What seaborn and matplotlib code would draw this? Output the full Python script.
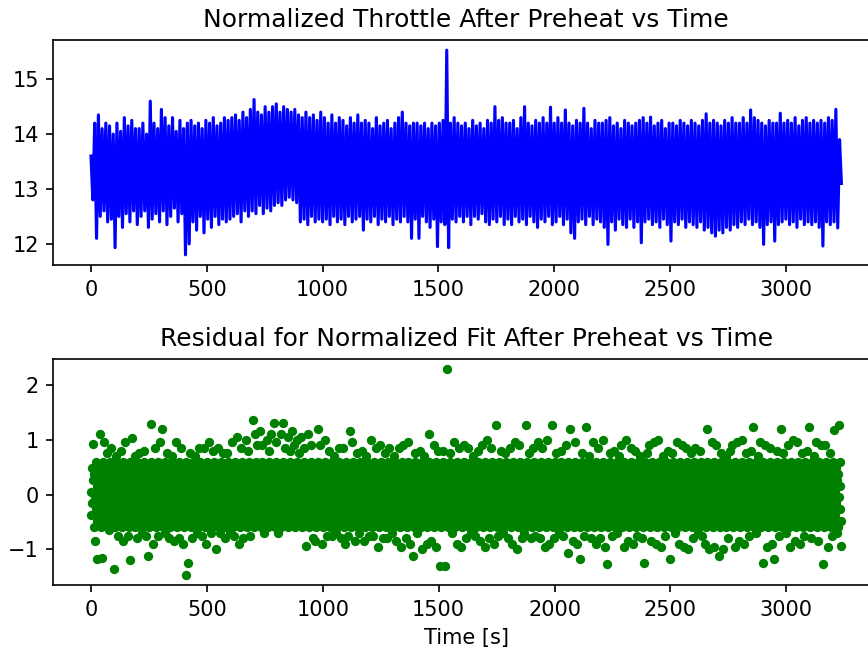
import numpy as np
import pandas as pd
import seaborn as sns
import matplotlib
matplotlib.use("Agg")
import matplotlib.pyplot as plt

# throttle after preheat, one sample every 8 s
throttle_dt = 8
throttle = [
    13.6, 12.8, 14.2, 12.1, 14.35, 12.5, 14.1, 12.6, 14.2, 12.4, 14.15, 12.45, 14.0, 11.93, 14.2, 12.5, 14.05, 12.3, 14.3, 12.55, 14.15, 12.4, 14.25, 12.6, 14.1,
    12.35, 14.1, 12.5, 14.2, 12.6, 14.0, 12.3, 14.6, 12.45, 14.2, 12.55, 14.1, 12.4, 14.45, 12.6, 14.3, 12.35, 14.15, 12.5, 14.3, 12.65, 14.05, 12.4, 14.25, 12.55,
    14.1, 11.8, 14.2, 12.0, 14.25, 12.4, 14.15, 12.25, 14.2, 12.5, 14.1, 12.2, 14.25, 12.45, 14.2, 12.3, 14.3, 12.5, 14.15, 12.35, 14.2, 12.45, 14.3, 12.4, 14.25,
    12.45, 14.3, 12.5, 14.35, 12.55, 14.25, 12.4, 14.4, 12.6, 14.3, 12.5, 14.45, 12.6, 14.63, 12.55, 14.4, 12.7, 14.35, 12.55, 14.5, 12.65, 14.4, 12.6, 14.5, 12.7,
    14.55, 12.75, 14.4, 12.7, 14.5, 12.8, 14.45, 12.85, 14.4, 12.8, 14.45, 12.75, 14.35, 12.4, 14.3, 12.45, 14.4, 12.35, 14.3, 12.5, 14.35, 12.4, 14.25, 12.45, 14.4,
    12.4, 14.3, 12.45, 14.2, 12.35, 14.35, 12.5, 14.2, 12.4, 14.3, 12.45, 14.25, 12.35, 14.15, 12.5, 14.3, 12.4, 14.2, 12.45, 14.35, 12.5, 14.2, 12.25, 14.25, 12.45,
    14.2, 12.4, 14.1, 12.5, 14.3, 12.35, 14.15, 12.45, 14.2, 12.4, 14.25, 12.5, 14.1, 12.35, 14.2, 12.45, 14.3, 12.4, 14.4, 12.5, 14.2, 12.4, 14.15, 12.1, 14.2,
    12.45, 14.2, 12.1, 14.15, 12.5, 14.2, 12.4, 14.1, 12.3, 14.2, 12.45, 14.15, 11.95, 14.2, 12.4, 14.25, 12.35, 15.53, 11.93, 14.2, 12.45, 14.3, 12.4, 14.2, 12.5,
    14.15, 12.4, 14.2, 12.5, 14.1, 12.35, 14.25, 12.5, 14.15, 12.45, 14.2, 12.55, 14.1, 12.4, 14.25, 12.35, 14.2, 12.45, 14.5, 12.4, 14.25, 12.5, 14.3, 12.35, 14.2,
    12.45, 14.2, 12.35, 14.25, 12.5, 14.1, 12.4, 14.3, 12.45, 14.5, 12.35, 14.2, 12.5, 14.15, 12.4, 14.25, 12.3, 14.2, 12.45, 14.3, 12.4, 14.2, 12.5, 14.49, 12.35,
    14.2, 12.4, 14.3, 12.5, 14.2, 12.35, 14.44, 12.45, 14.2, 12.2, 14.15, 12.1, 14.25, 12.4, 14.2, 12.45, 14.47, 12.35, 14.2, 12.5, 14.1, 12.35, 14.25, 12.45, 14.2,
    12.4, 14.2, 12.3, 14.25, 11.99, 14.3, 12.4, 14.15, 12.25, 14.2, 12.45, 14.1, 12.35, 14.25, 12.3, 14.2, 12.45, 14.15, 12.3, 14.2, 12.4, 14.25, 12.02, 14.3, 12.4,
    14.2, 12.45, 14.31, 12.35, 14.15, 12.4, 14.2, 12.3, 14.25, 12.45, 14.1, 12.35, 14.2, 12.05, 14.2, 12.4, 14.15, 12.35, 14.25, 12.45, 14.2, 12.3, 14.15, 12.4, 14.25,
    12.35, 14.2, 12.3, 14.15, 12.4, 14.25, 12.25, 14.37, 12.3, 14.2, 12.2, 14.25, 12.14, 14.2, 12.25, 14.15, 12.2, 14.25, 12.3, 14.2, 12.25, 14.3, 12.35, 14.2, 12.3,
    14.2, 12.4, 14.3, 12.35, 14.2, 12.45, 14.44, 12.35, 14.3, 12.4, 14.25, 12.3, 14.2, 11.99, 14.15, 12.35, 14.25, 12.4, 14.2, 12.05, 14.2, 12.35, 14.38, 12.4, 14.2,
    12.45, 14.25, 12.35, 14.2, 12.4, 14.3, 12.3, 14.15, 12.45, 14.25, 12.35, 14.3, 12.4, 14.2, 12.35, 14.25, 12.4, 14.2, 12.3, 14.25, 11.96, 14.2, 12.4, 14.3, 12.35,
    14.25, 12.4, 14.45, 12.29, 13.9, 13.1,
]

# residual of the normalized fit, one sample every 2 s, 30 samples per row = 60 s
residual_dt = 2
residual = [
    0.05, -0.38, 0.49, -0.16, 0.92, 0.27, -0.6, 0.38, -0.05, -0.85, 0.6, -0.27, 0.16, -0.49, -1.18, 0.05, -0.38, 0.49, -0.16, 1.1, 0.27, -0.6, 0.38, -0.05, -1.15, 0.6, -0.27, 0.16, -0.49, 0.95,
    0.05, -0.38, 0.49, -0.16, 0.75, 0.27, -0.6, 0.38, -0.05, -0.65, 0.6, -0.27, 0.16, -0.49, 0.85, 0.05, -0.38, 0.49, -0.16, -1.36, 0.27, -0.6, 0.38, -0.05, 0.7, 0.6, -0.27, 0.16, -0.49, -0.75,
    0.05, -0.38, 0.49, -0.16, 0.8, 0.27, -0.6, 0.38, -0.05, -0.85, 0.6, -0.27, 0.16, -0.49, 0.95, 0.05, -0.38, 0.49, -0.16, -0.75, 0.27, -0.6, 0.38, -0.05, -1.2, 0.6, -0.27, 0.16, -0.49, 1.03,
    0.05, -0.38, 0.49, -0.16, 0.7, 0.27, -0.6, 0.38, -0.05, -0.8, 0.6, -0.27, 0.16, -0.49, 0.75, 0.05, -0.38, 0.49, -0.16, -0.7, 0.27, -0.6, 0.38, -0.05, 0.8, 0.6, -0.27, 0.16, -0.49, -0.75,
    0.05, -0.38, 0.49, -0.16, -1.12, 0.27, -0.6, 0.38, -0.05, 1.29, 0.6, -0.27, 0.16, -0.49, -0.9, 0.05, -0.38, 0.49, -0.16, 0.85, 0.27, -0.6, 0.38, -0.05, -0.75, 0.6, -0.27, 0.16, -0.49, 0.95,
    0.05, -0.38, 0.49, -0.16, 1.19, 0.27, -0.6, 0.38, -0.05, -0.7, 0.6, -0.27, 0.16, -0.49, 0.75, 0.05, -0.38, 0.49, -0.16, -0.8, 0.27, -0.6, 0.38, -0.05, 0.7, 0.6, -0.27, 0.16, -0.49, -0.85,
    0.05, -0.38, 0.49, -0.16, 0.95, 0.27, -0.6, 0.38, -0.05, -0.8, 0.6, -0.27, 0.16, -0.49, 0.85, 0.05, -0.38, 0.49, -0.16, -0.9, 0.27, -0.6, 0.38, -0.05, -1.46, 0.6, -0.27, 0.16, -0.49, -1.25,
    0.05, -0.38, 0.49, -0.16, 0.75, 0.27, -0.6, 0.38, -0.05, -0.8, 0.6, -0.27, 0.16, -0.49, 0.7, 0.05, -0.38, 0.49, -0.16, -0.7, 0.27, -0.6, 0.38, -0.05, 0.85, 0.6, -0.27, 0.16, -0.49, -0.75,
    0.05, -0.38, 0.49, -0.16, 0.85, 0.27, -0.6, 0.38, -0.05, -0.9, 0.6, -0.27, 0.16, -0.49, 0.95, 0.05, -0.38, 0.49, -0.16, -0.7, 0.27, -0.6, 0.38, -0.05, 0.8, 0.6, -0.27, 0.16, -0.49, -1.0,
    0.05, -0.38, 0.49, -0.16, 0.85, 0.27, -0.6, 0.38, -0.05, -0.7, 0.6, -0.27, 0.16, -0.49, 0.75, 0.05, -0.38, 0.49, -0.16, -0.8, 0.27, -0.6, 0.38, -0.05, 0.75, 0.6, -0.27, 0.16, -0.49, -0.7,
    0.05, -0.38, 0.49, -0.16, 0.95, 0.27, -0.6, 0.38, -0.05, -0.75, 0.6, -0.27, 0.16, -0.49, 1.05, 0.05, -0.38, 0.49, -0.16, -0.9, 0.27, -0.6, 0.38, -0.05, 0.85, 0.6, -0.27, 0.16, -0.49, -0.8,
    0.05, -0.38, 0.49, -0.16, 1.0, 0.27, -0.6, 0.38, -0.05, 0.8, 0.6, -0.27, 0.16, -0.49, -0.75, 0.05, -0.38, 0.49, -0.16, 1.36, 0.27, -0.6, 0.38, -0.05, 1.1, 0.6, -0.27, 0.16, -0.49, 0.9,
    0.05, -0.38, 0.49, -0.16, 1.15, 0.27, -0.6, 0.38, -0.05, 0.9, 0.6, -0.27, 0.16, -0.49, -0.7, 0.05, -0.38, 0.49, -0.16, 1.0, 0.27, -0.6, 0.38, -0.05, 0.8, 0.6, -0.27, 0.16, -0.49, 1.1,
    0.05, -0.38, 0.49, -0.16, 1.3, 0.27, -0.6, 0.38, -0.05, 0.95, 0.6, -0.27, 0.16, -0.49, -0.7, 0.05, -0.38, 0.49, -0.16, 1.1, 0.27, -0.6, 0.38, -0.05, 1.3, 0.6, -0.27, 0.16, -0.49, 0.85,
    0.05, -0.38, 0.49, -0.16, 1.05, 0.27, -0.6, 0.38, -0.05, 0.8, 0.6, -0.27, 0.16, -0.49, 1.15, 0.05, -0.38, 0.49, -0.16, 0.9, 0.27, -0.6, 0.38, -0.05, 1.0, 0.6, -0.27, 0.16, -0.49, 0.75,
    0.05, -0.38, 0.49, -0.16, 1.05, 0.27, -0.6, 0.38, -0.05, 0.85, 0.6, -0.27, 0.16, -0.49, -0.93, 0.05, -0.38, 0.49, -0.16, 1.1, 0.27, -0.6, 0.38, -0.05, 0.9, 0.6, -0.27, 0.16, -0.49, -0.8,
    0.05, -0.38, 0.49, -0.16, -0.85, 0.27, -0.6, 0.38, -0.05, 1.19, 0.6, -0.27, 0.16, -0.49, 0.9, 0.05, -0.38, 0.49, -0.16, -0.9, 0.27, -0.6, 0.38, -0.05, 1.0, 0.6, -0.27, 0.16, -0.49, -0.75,
    0.05, -0.38, 0.49, -0.16, 0.8, 0.27, -0.6, 0.38, -0.05, -0.75, 0.6, -0.27, 0.16, -0.49, 0.7, 0.05, -0.38, 0.49, -0.16, -0.7, 0.27, -0.6, 0.38, -0.05, 0.85, 0.6, -0.27, 0.16, -0.49, -0.8,
    0.05, -0.38, 0.49, -0.16, 0.85, 0.27, -0.6, 0.38, -0.05, -0.9, 0.6, -0.27, 0.16, -0.49, -0.75, 0.05, -0.38, 0.49, -0.16, 1.16, 0.27, -0.6, 0.38, -0.05, 0.95, 0.6, -0.27, 0.16, -0.49, -0.85,
    0.05, -0.38, 0.49, -0.16, 0.75, 0.27, -0.6, 0.38, -0.05, -0.7, 0.6, -0.27, 0.16, -0.49, 0.8, 0.05, -0.38, 0.49, -0.16, -0.85, 0.27, -0.6, 0.38, -0.05, 0.7, 0.6, -0.27, 0.16, -0.49, -0.75,
    0.05, -0.38, 0.49, -0.16, 1.0, 0.27, -0.6, 0.38, -0.05, -0.75, 0.6, -0.27, 0.16, -0.49, 0.85, 0.05, -0.38, 0.49, -0.16, -0.95, 0.27, -0.6, 0.38, -0.05, 0.9, 0.6, -0.27, 0.16, -0.49, -0.8,
    0.05, -0.38, 0.49, -0.16, 0.75, 0.27, -0.6, 0.38, -0.05, -0.8, 0.6, -0.27, 0.16, -0.49, 0.85, 0.05, -0.38, 0.49, -0.16, -0.7, 0.27, -0.6, 0.38, -0.05, 0.7, 0.6, -0.27, 0.16, -0.49, -0.85,
    0.05, -0.38, 0.49, -0.16, 0.85, 0.27, -0.6, 0.38, -0.05, -0.95, 0.6, -0.27, 0.16, -0.49, 0.9, 0.05, -0.38, 0.49, -0.16, -0.8, 0.27, -0.6, 0.38, -0.05, 0.95, 0.6, -0.27, 0.16, -0.49, -0.9,
    0.05, -0.38, 0.49, -0.16, -1.12, 0.27, -0.6, 0.38, -0.05, 0.75, 0.6, -0.27, 0.16, -0.49, -0.7, 0.05, -0.38, 0.49, -0.16, 0.8, 0.27, -0.6, 0.38, -0.05, -1.0, 0.6, -0.27, 0.16, -0.49, 0.7,
    0.05, -0.38, 0.49, -0.16, -0.9, 0.27, -0.6, 0.38, -0.05, 1.1, 0.6, -0.27, 0.16, -0.49, -0.85, 0.05, -0.38, 0.49, -0.16, 0.9, 0.27, -0.6, 0.38, -0.05, -0.95, 0.6, -0.27, 0.16, -0.49, 0.8,
    0.05, -0.38, 0.49, -0.16, -1.31, 0.27, -0.6, 0.38, -0.05, 0.8, 0.6, -0.27, 0.16, -0.49, -1.31, 0.05, -0.38, 0.49, -0.16, 2.28, 0.27, -0.6, 0.38, -0.05, 0.75, 0.6, -0.27, 0.16, -0.49, -0.7,
    0.05, -0.38, 0.49, -0.16, 0.95, 0.27, -0.6, 0.38, -0.05, -0.9, 0.6, -0.27, 0.16, -0.49, 0.85, 0.05, -0.38, 0.49, -0.16, -0.95, 0.27, -0.6, 0.38, -0.05, 0.9, 0.6, -0.27, 0.16, -0.49, -0.8,
    0.05, -0.38, 0.49, -0.16, 0.85, 0.27, -0.6, 0.38, -0.05, -0.7, 0.6, -0.27, 0.16, -0.49, 0.7, 0.05, -0.38, 0.49, -0.16, -0.75, 0.27, -0.6, 0.38, -0.05, 0.8, 0.6, -0.27, 0.16, -0.49, -0.85,
    0.05, -0.38, 0.49, -0.16, 0.9, 0.27, -0.6, 0.38, -0.05, -0.95, 0.6, -0.27, 0.16, -0.49, 1.0, 0.05, -0.38, 0.49, -0.16, -0.8, 0.27, -0.6, 0.38, -0.05, 0.85, 0.6, -0.27, 0.16, -0.49, -0.9,
    0.05, -0.38, 0.49, -0.16, 1.26, 0.27, -0.6, 0.38, -0.05, -0.75, 0.6, -0.27, 0.16, -0.49, 0.8, 0.05, -0.38, 0.49, -0.16, -0.7, 0.27, -0.6, 0.38, -0.05, 0.75, 0.6, -0.27, 0.16, -0.49, -0.8,
    0.05, -0.38, 0.49, -0.16, 0.85, 0.27, -0.6, 0.38, -0.05, -0.9, 0.6, -0.27, 0.16, -0.49, 0.95, 0.05, -0.38, 0.49, -0.16, -1.0, 0.27, -0.6, 0.38, -0.05, 0.9, 0.6, -0.27, 0.16, -0.49, -0.8,
    0.05, -0.38, 0.49, -0.16, -0.7, 0.27, -0.6, 0.38, -0.05, 1.26, 0.6, -0.27, 0.16, -0.49, 0.75, 0.05, -0.38, 0.49, -0.16, -0.8, 0.27, -0.6, 0.38, -0.05, 0.85, 0.6, -0.27, 0.16, -0.49, -0.75,
    0.05, -0.38, 0.49, -0.16, 0.95, 0.27, -0.6, 0.38, -0.05, -0.8, 0.6, -0.27, 0.16, -0.49, 0.85, 0.05, -0.38, 0.49, -0.16, -0.95, 0.27, -0.6, 0.38, -0.05, 1.0, 0.6, -0.27, 0.16, -0.49, -0.9,
    0.05, -0.38, 0.49, -0.16, 1.26, 0.27, -0.6, 0.38, -0.05, -0.8, 0.6, -0.27, 0.16, -0.49, 0.75, 0.05, -0.38, 0.49, -0.16, -0.7, 0.27, -0.6, 0.38, -0.05, 0.8, 0.6, -0.27, 0.16, -0.49, -0.75,
    0.05, -0.38, 0.49, -0.16, 0.9, 0.27, -0.6, 0.38, -0.05, -1.06, 0.6, -0.27, 0.16, -0.49, 1.2, 0.05, -0.38, 0.49, -0.16, -0.85, 0.27, -0.6, 0.38, -0.05, 0.95, 0.6, -0.27, 0.16, -0.49, -0.9,
    0.05, -0.38, 0.49, -0.16, -1.17, 0.27, -0.6, 0.38, -0.05, 0.75, 0.6, -0.27, 0.16, -0.49, -0.75, 0.05, -0.38, 0.49, -0.16, 1.23, 0.27, -0.6, 0.38, -0.05, 0.7, 0.6, -0.27, 0.16, -0.49, -0.8,
    0.05, -0.38, 0.49, -0.16, 0.95, 0.27, -0.6, 0.38, -0.05, -0.9, 0.6, -0.27, 0.16, -0.49, 0.85, 0.05, -0.38, 0.49, -0.16, -0.8, 0.27, -0.6, 0.38, -0.05, 1.0, 0.6, -0.27, 0.16, -0.49, -0.95,
    0.05, -0.38, 0.49, -0.16, -1.27, 0.27, -0.6, 0.38, -0.05, 0.75, 0.6, -0.27, 0.16, -0.49, -0.75, 0.05, -0.38, 0.49, -0.16, 0.8, 0.27, -0.6, 0.38, -0.05, -0.7, 0.6, -0.27, 0.16, -0.49, 0.7,
    0.05, -0.38, 0.49, -0.16, 0.9, 0.27, -0.6, 0.38, -0.05, -0.95, 0.6, -0.27, 0.16, -0.49, 1.0, 0.05, -0.38, 0.49, -0.16, -0.85, 0.27, -0.6, 0.38, -0.05, 0.85, 0.6, -0.27, 0.16, -0.49, -0.9,
    0.05, -0.38, 0.49, -0.16, 0.8, 0.27, -0.6, 0.38, -0.05, -0.75, 0.6, -0.27, 0.16, -0.49, 0.7, 0.05, -0.38, 0.49, -0.16, -0.8, 0.27, -0.6, 0.38, -0.05, -1.24, 0.6, -0.27, 0.16, -0.49, 0.75,
    0.05, -0.38, 0.49, -0.16, 0.9, 0.27, -0.6, 0.38, -0.05, -0.85, 0.6, -0.27, 0.16, -0.49, 0.95, 0.05, -0.38, 0.49, -0.16, -0.9, 0.27, -0.6, 0.38, -0.05, 1.0, 0.6, -0.27, 0.16, -0.49, -0.95,
    0.05, -0.38, 0.49, -0.16, 0.7, 0.27, -0.6, 0.38, -0.05, -0.75, 0.6, -0.27, 0.16, -0.49, 0.8, 0.05, -0.38, 0.49, -0.16, -1.17, 0.27, -0.6, 0.38, -0.05, 0.75, 0.6, -0.27, 0.16, -0.49, -0.7,
    0.05, -0.38, 0.49, -0.16, 0.95, 0.27, -0.6, 0.38, -0.05, -0.9, 0.6, -0.27, 0.16, -0.49, 0.9, 0.05, -0.38, 0.49, -0.16, -0.95, 0.27, -0.6, 0.38, -0.05, 0.85, 0.6, -0.27, 0.16, -0.49, -1.0,
    0.05, -0.38, 0.49, -0.16, 0.75, 0.27, -0.6, 0.38, -0.05, -0.8, 0.6, -0.27, 0.16, -0.49, 0.85, 0.05, -0.38, 0.49, -0.16, -0.7, 0.27, -0.6, 0.38, -0.05, 0.8, 0.6, -0.27, 0.16, -0.49, -0.75,
    0.05, -0.38, 0.49, -0.16, -0.9, 0.27, -0.6, 0.38, -0.05, 1.2, 0.6, -0.27, 0.16, -0.49, -1.0, 0.05, -0.38, 0.49, -0.16, 0.95, 0.27, -0.6, 0.38, -0.05, -0.95, 0.6, -0.27, 0.16, -0.49, 0.9,
    0.05, -0.38, 0.49, -0.16, -1.12, 0.27, -0.6, 0.38, -0.05, 0.75, 0.6, -0.27, 0.16, -0.49, -1.0, 0.05, -0.38, 0.49, -0.16, 0.7, 0.27, -0.6, 0.38, -0.05, -0.8, 0.6, -0.27, 0.16, -0.49, 0.8,
    0.05, -0.38, 0.49, -0.16, 0.9, 0.27, -0.6, 0.38, -0.05, -0.95, 0.6, -0.27, 0.16, -0.49, 0.95, 0.05, -0.38, 0.49, -0.16, -0.85, 0.27, -0.6, 0.38, -0.05, 1.0, 0.6, -0.27, 0.16, -0.49, -0.9,
    0.05, -0.38, 0.49, -0.16, 0.75, 0.27, -0.6, 0.38, -0.05, -0.75, 0.6, -0.27, 0.16, -0.49, 0.8, 0.05, -0.38, 0.49, -0.16, 1.23, 0.27, -0.6, 0.38, -0.05, -0.7, 0.6, -0.27, 0.16, -0.49, 0.7,
    0.05, -0.38, 0.49, -0.16, 0.95, 0.27, -0.6, 0.38, -0.05, -1.24, 0.6, -0.27, 0.16, -0.49, 0.9, 0.05, -0.38, 0.49, -0.16, -0.95, 0.27, -0.6, 0.38, -0.05, 0.85, 0.6, -0.27, 0.16, -0.49, -0.9,
    0.05, -0.38, 0.49, -0.16, -1.17, 0.27, -0.6, 0.38, -0.05, 0.8, 0.6, -0.27, 0.16, -0.49, -0.75, 0.05, -0.38, 0.49, -0.16, 1.2, 0.27, -0.6, 0.38, -0.05, 0.75, 0.6, -0.27, 0.16, -0.49, -0.7,
    0.05, -0.38, 0.49, -0.16, 0.9, 0.27, -0.6, 0.38, -0.05, -0.95, 0.6, -0.27, 0.16, -0.49, 1.0, 0.05, -0.38, 0.49, -0.16, -0.85, 0.27, -0.6, 0.38, -0.05, 0.95, 0.6, -0.27, 0.16, -0.49, -0.9,
    0.05, -0.38, 0.49, -0.16, 0.75, 0.27, -0.6, 0.38, -0.05, -0.75, 0.6, -0.27, 0.16, -0.49, 0.8, 0.05, -0.38, 0.49, -0.16, 1.22, 0.27, -0.6, 0.38, -0.05, -0.8, 0.6, -0.27, 0.16, -0.49, 0.7,
    0.05, -0.38, 0.49, -0.16, 0.95, 0.27, -0.6, 0.38, -0.05, -0.85, 0.6, -0.27, 0.16, -0.49, 0.9, 0.05, -0.38, 0.49, -0.16, -1.26, 0.27, -0.6, 0.38, -0.05, 0.9, 0.6, -0.27, 0.16, -0.49, -0.95,
    0.05, -0.38, 0.49, -0.16, 0.75, 0.27, -0.6, 0.38, -0.05, -0.75, 0.6, -0.27, 0.16, -0.49, 1.18, 0.05, -0.38, 0.49, -0.16, -0.7, 0.27, -0.6, 0.38, -0.05, 1.26, 0.6, -0.27, 0.16, -0.49, -0.93,
]

plt.rcParams["path.simplify"] = False

df_thr = pd.DataFrame({"time": np.arange(len(throttle)) * throttle_dt, "throttle": throttle})
df_res = pd.DataFrame({"time": np.arange(len(residual)) * residual_dt, "residual": residual})

dpi = 150
fig = plt.figure(figsize=(868 / dpi, 650 / dpi), dpi=dpi)
# the right spine sits just past the image edge, as in the original
ax1 = fig.add_axes([0.0616, 0.5923, 0.951, 0.3462])
ax2 = fig.add_axes([0.0616, 0.1000, 0.951, 0.3477])

sns.lineplot(data=df_thr, x="time", y="throttle", ax=ax1, color="b",
             linewidth=1.5, estimator=None)
ax1.set_title("Normalized Throttle After Preheat vs Time")
ax1.set_xlabel("")
ax1.set_ylabel("")

sns.scatterplot(data=df_res, x="time", y="residual", ax=ax2, color="g",
                s=20, linewidth=0, alpha=1.0)
ax2.set_title("Residual for Normalized Fit After Preheat vs Time")
ax2.set_xlabel("Time [s]")
ax2.set_ylabel("")

fig.savefig("out.png", dpi=dpi)
